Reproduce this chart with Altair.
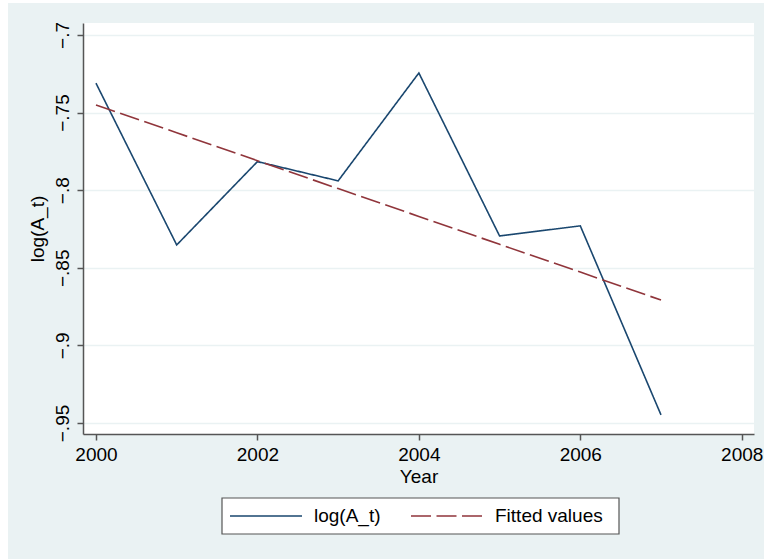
import altair as alt
import pandas as pd

# Series read per year
years = [2000, 2001, 2002, 2003, 2004, 2005, 2006, 2007]
log_a = [-0.7311, -0.8353, -0.7816, -0.7940, -0.7245, -0.8295, -0.8230, -0.9448]
fitted = [-0.7451, -0.7630, -0.7810, -0.7990, -0.8169, -0.8349, -0.8528, -0.8708]
series_names = ["log(A_t)", "Fitted values"]
series_colors = ["#1a476f", "#90353b"]
series_dashes = [[1, 0], [20, 5.5]]

# Axis ticks
y_ticks = [-0.95, -0.9, -0.85, -0.8, -0.75, -0.7]
x_ticks = [2000, 2002, 2004, 2006, 2008]

W, H = 671, 411
FONT = "Liberation Sans"
BG = "#eaf2f3"

df = pd.DataFrame(
    {
        "Year": years * 2,
        "value": log_a + fitted,
        "series": [series_names[0]] * len(years) + [series_names[1]] * len(years),
    }
)
one = pd.DataFrame({"k": [0]})

x_scale = alt.Scale(domain=[1999.839, 2008.152], nice=False, zero=False)
y_scale = alt.Scale(domain=[-0.9571, -0.6923], nice=False, zero=False)

# Thin white page margin along the left and top of the shaded panel
margin_left = alt.Chart(one).mark_rect(fill="white").encode(
    x=alt.value(-83), x2=alt.value(-75), y=alt.value(-23), y2=alt.value(H + 125)
)
margin_top = alt.Chart(one).mark_rect(fill="white").encode(
    x=alt.value(-83), x2=alt.value(W + 10), y=alt.value(-23), y2=alt.value(-20)
)

lines = alt.Chart(df).mark_line(strokeWidth=1.6).encode(
    x=alt.X(
        "Year:Q",
        scale=x_scale,
        axis=alt.Axis(
            values=x_ticks,
            format="d",
            title="Year",
            labelPadding=5,
            titlePadding=3,
            grid=False,
        ),
    ),
    y=alt.Y(
        "value:Q",
        scale=y_scale,
        axis=alt.Axis(
            values=y_ticks,
            labelExpr="replace(format(datum.value, '.2~f'), '0.', '.')",
            title="log(A_t)",
            labelAngle=270,
            labelAlign="center",
            labelBaseline="alphabetic",
            labelPadding=9,
            titlePadding=6,
            grid=True,
            gridColor=BG,
            gridWidth=1.5,
        ),
    ),
    color=alt.Color(
        "series:N",
        scale=alt.Scale(domain=series_names, range=series_colors),
        legend=None,
    ),
    strokeDash=alt.StrokeDash(
        "series:N",
        scale=alt.Scale(domain=series_names, range=series_dashes),
        legend=None,
    ),
    order=alt.Order("Year:Q"),
)

# Legend box below the plot, with a line sample and label per series
LEG_Y = H + 82
legend_box = alt.Chart(one).mark_rect(
    fill="white", stroke="#555555", strokeWidth=1.2
).encode(
    x=alt.value(139), x2=alt.value(536), y=alt.value(H + 64), y2=alt.value(H + 100)
)
legend_parts = [legend_box]
for name, color, dash, x0 in zip(series_names, series_colors, series_dashes, [147, 328]):
    legend_parts.append(
        alt.Chart(one)
        .mark_rule(color=color, strokeWidth=1.6, strokeDash=dash)
        .encode(x=alt.value(x0), x2=alt.value(x0 + 72), y=alt.value(LEG_Y))
    )
    legend_parts.append(
        alt.Chart(one)
        .mark_text(
            align="left", baseline="middle", font=FONT, fontSize=19, color="black"
        )
        .encode(x=alt.value(x0 + 84), y=alt.value(LEG_Y), text=alt.value(name))
    )

chart = (
    alt.layer(lines, margin_left, margin_top, *legend_parts)
    .properties(
        width=W,
        height=H,
        background=BG,
        padding={"left": 83, "top": 23, "right": 10, "bottom": 125},
        autosize=alt.AutoSizeParams(type="none"),
    )
    .configure_view(stroke=None, fill="white")
    .configure_axis(
        domainColor="#555555",
        domainWidth=1.5,
        tickColor="#555555",
        tickWidth=1.5,
        tickSize=6,
        labelFont=FONT,
        labelFontSize=19,
        labelColor="black",
        titleFont=FONT,
        titleFontSize=19,
        titleFontWeight="normal",
        titleColor="black",
    )
)

chart.save("out.html", embed_options={"renderer": "svg", "actions": False})
